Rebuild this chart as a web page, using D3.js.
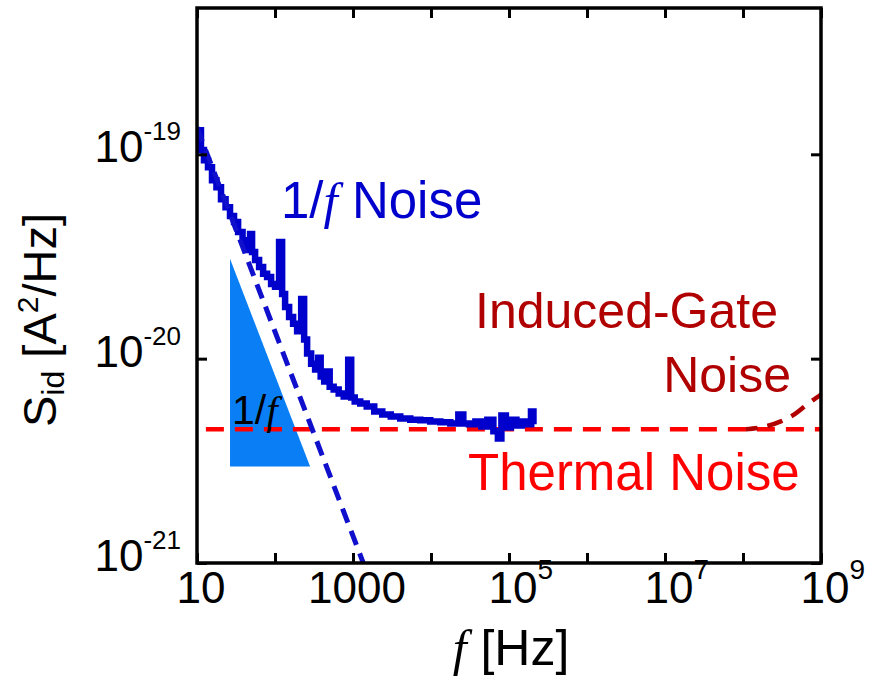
<!DOCTYPE html>
<html>
<head>
<meta charset="utf-8">
<script src="https://cdn.jsdelivr.net/npm/d3@7"></script>
<style>
  body { margin: 0; background: #fff; }
  text { font-family: "Liberation Sans", Arial, sans-serif; }
  .it { font-family: "Liberation Serif", "Times New Roman", serif; font-style: italic; }
</style>
</head>
<body>
<script>
// measured spectrum (Hz, A^2/Hz)
const freq = [10.3, 10.9, 11.6, 13.0, 14.7, 16.5, 19.1, 21.6, 25.0, 28.1, 31.7, 35.7, 41.3, 46.5, 49.3, 52.4,
  58.9, 66.4, 74.7, 84.0, 94.6, 106, 120, 127, 143, 161, 181, 204, 230, 243, 274, 308, 347, 368, 403, 453,
  481, 525, 608, 706, 818, 921, 977, 1132, 1352, 1663, 2108, 2669, 3483, 4680, 6286, 8450, 11350, 15270,
  20500, 24500, 27550, 33900, 40500, 48300, 57700, 68900, 75300, 84800, 98200, 114000, 136000, 158000,
  183000, 200000, 212000];
const sid = [1.21e-19, 1.31e-19, 1.05e-19, 9.35e-20, 8.64e-20, 7.47e-20, 6.90e-20, 6.03e-20, 5.51e-20,
  4.99e-20, 4.66e-20, 4.17e-20, 3.80e-20, 3.40e-20, 4.07e-20, 3.33e-20, 3.04e-20, 2.81e-20, 2.60e-20,
  2.51e-20, 2.32e-20, 2.25e-20, 3.72e-20, 2.07e-20, 1.79e-20, 1.60e-20, 1.48e-20, 1.36e-20, 1.96e-20,
  1.24e-20, 1.06e-20, 9.45e-21, 8.84e-21, 1.01e-20, 8.17e-21, 7.72e-21, 8.65e-21, 7.29e-21, 7.06e-21,
  6.75e-21, 6.53e-21, 9.88e-21, 6.46e-21, 6.17e-21, 6.03e-21, 5.83e-21, 5.51e-21, 5.33e-21, 5.21e-21,
  5.09e-21, 5.03e-21, 4.99e-21, 4.93e-21, 4.88e-21, 4.82e-21, 5.33e-21, 4.82e-21, 4.77e-21, 4.93e-21,
  4.66e-21, 5.03e-21, 4.41e-21, 4.07e-21, 5.27e-21, 4.60e-21, 5.03e-21, 4.71e-21, 4.93e-21, 4.77e-21,
  5.51e-21, 4.77e-21];

// 1/f fit: S = K / f
const flickerK = 1.355e-18;
const flickerRange = [10, 1360];
// thermal floor
const thermalLevel = 4.51e-21;
const thermalRange = [13, 1e9];
// induced-gate rise
const gateFreq = [1.08e8, 1.95e8, 3.05e8, 4.75e8, 6.38e8, 1e9];
const gateS = [4.51e-21, 4.66e-21, 4.93e-21, 5.40e-21, 5.90e-21, 6.67e-21];
// slope triangle corners (f, S)
const triF = [26.5, 26.5, 282];
const triS = [3.08e-20, 2.97e-21, 2.97e-21];

const xTicks = [10, 100, 1e3, 1e4, 1e5, 1e6, 1e7, 1e8, 1e9];
const xLabels = [[10, "10", ""], [1e3, "1000", ""], [1e5, "10", "5"], [1e7, "10", "7"], [1e9, "10", "9"]];
const yTicks = [1e-21, 1e-20, 1e-19];
const yLabels = [[1e-19, "10", "-19"], [1e-20, "10", "-20"], [1e-21, "10", "-21"]];

const W = 873, H = 680;
const margin = {top: 8, right: 52, bottom: 117, left: 197};
const width = W - margin.left - margin.right,
      height = H - margin.top - margin.bottom;

const svg = d3.select("body").append("svg")
  .attr("width", W).attr("height", H)
  .attr("xmlns", "http://www.w3.org/2000/svg");

const x = d3.scaleLog().domain([10, 1e9]).range([0, width]);
const y = d3.scaleLog().domain([1e-21, 5.2e-19]).range([height, 0]);

const g = svg.append("g").attr("transform", `translate(${margin.left},${margin.top})`);

g.append("defs").append("clipPath").attr("id", "clip")
  .append("rect").attr("width", width).attr("height", height);
const plot = g.append("g").attr("clip-path", "url(#clip)");

// slope triangle
plot.append("polygon")
  .attr("points", triF.map((f, i) => [x(f), y(triS[i])].join(",")).join(" "))
  .attr("fill", "#0a7ff5");

// thermal noise floor
plot.append("line")
  .attr("x1", x(thermalRange[0])).attr("x2", x(thermalRange[1]))
  .attr("y1", y(thermalLevel)).attr("y2", y(thermalLevel))
  .attr("stroke", "#ff0000").attr("stroke-width", 4.5).attr("stroke-dasharray", "18,11");

// induced-gate rise
plot.append("path")
  .datum(gateFreq.map((f, i) => [f, gateS[i]]))
  .attr("d", d3.line().x(d => x(d[0])).y(d => y(d[1])).curve(d3.curveMonotoneX))
  .attr("fill", "none").attr("stroke", "#b00000").attr("stroke-width", 4.5)
  .attr("stroke-dasharray", "16,10").attr("stroke-dashoffset", 4);

// measured spectrum
plot.append("path")
  .datum(freq.map((f, i) => [f, sid[i]]))
  .attr("d", d3.line().x(d => x(d[0])).y(d => y(d[1])).curve(d3.curveStep))
  .attr("fill", "none").attr("stroke", "#0000cc").attr("stroke-width", 6.5)
  .attr("stroke-linejoin", "miter");

// 1/f asymptote
plot.append("line")
  .attr("x1", x(flickerRange[0])).attr("y1", y(flickerK / flickerRange[0]))
  .attr("x2", x(flickerRange[1])).attr("y2", y(flickerK / flickerRange[1]))
  .attr("stroke", "#1010cc").attr("stroke-width", 5).attr("stroke-dasharray", "15,9");

// frame + inward ticks
const tick = 10;
g.append("g").attr("transform", `translate(0,${height})`)
  .call(d3.axisBottom(x).tickValues(xTicks).tickSize(-tick).tickFormat(""));
g.append("g")
  .call(d3.axisTop(x).tickValues(xTicks).tickSize(-tick).tickFormat(""));
g.append("g")
  .call(d3.axisLeft(y).tickValues(yTicks).tickSize(-tick).tickFormat(""));
g.append("g").attr("transform", `translate(${width},0)`)
  .call(d3.axisRight(y).tickValues(yTicks).tickSize(-tick).tickFormat(""));
g.selectAll(".domain").remove();
g.selectAll(".tick line").attr("stroke", "#000").attr("stroke-width", 3);
g.append("rect").attr("width", width).attr("height", height)
  .attr("fill", "none").attr("stroke", "#000").attr("stroke-width", 3.5);

// tick labels
const lab = svg.append("g").attr("font-size", 44).attr("fill", "#000");
xLabels.forEach(([v, base, sup]) => {
  const t = lab.append("text")
    .attr("x", margin.left + x(v) - base.length * 0.556 * 44 / 2 + 4)
    .attr("y", margin.top + height + 40);
  t.append("tspan").text(base);
  if (sup) t.append("tspan").attr("font-size", 28).attr("dy", -24).text(sup);
});
yLabels.forEach(([v, base, sup]) => {
  const t = lab.append("text").attr("text-anchor", "end")
    .attr("x", 181).attr("y", margin.top + y(v) + 8);
  t.append("tspan").text(base);
  t.append("tspan").attr("font-size", 26).attr("dy", -22).text(sup);
});

// axis titles
const yt = svg.append("text").attr("font-size", 47)
  .attr("transform", "translate(56,320) rotate(-90)").attr("text-anchor", "middle");
yt.append("tspan").text("S");
yt.append("tspan").attr("font-size", 32).attr("dy", 8).text("id");
yt.append("tspan").attr("dy", -8).text(" [A");
yt.append("tspan").attr("font-size", 30).attr("dy", -18).text("2");
yt.append("tspan").attr("dy", 18).text("/Hz]");

const xt = svg.append("text").attr("font-size", 50)
  .attr("x", margin.left + width / 2 + 2).attr("y", 665).attr("text-anchor", "middle");
xt.append("tspan").attr("class", "it").text("f");
xt.append("tspan").text(" [Hz]");

// annotations
const a1 = svg.append("text").attr("font-size", 51).attr("fill", "#0000cc")
  .attr("x", 281).attr("y", 218);
a1.append("tspan").text("1/");
a1.append("tspan").attr("class", "it").text("f");
a1.append("tspan").text(" Noise");

svg.append("text").attr("font-size", 50).attr("fill", "#b00000")
  .attr("x", 778).attr("y", 328).attr("text-anchor", "end").text("Induced-Gate");
svg.append("text").attr("font-size", 50).attr("fill", "#b00000")
  .attr("x", 791).attr("y", 392).attr("text-anchor", "end").text("Noise");
svg.append("text").attr("font-size", 51).attr("fill", "#ff0000")
  .attr("x", 468).attr("y", 490).text("Thermal Noise");

const a2 = svg.append("text").attr("font-size", 41).attr("fill", "#000")
  .attr("x", 232).attr("y", 424);
a2.append("tspan").text("1/");
a2.append("tspan").attr("class", "it").text("f");
</script>
</body>
</html>
